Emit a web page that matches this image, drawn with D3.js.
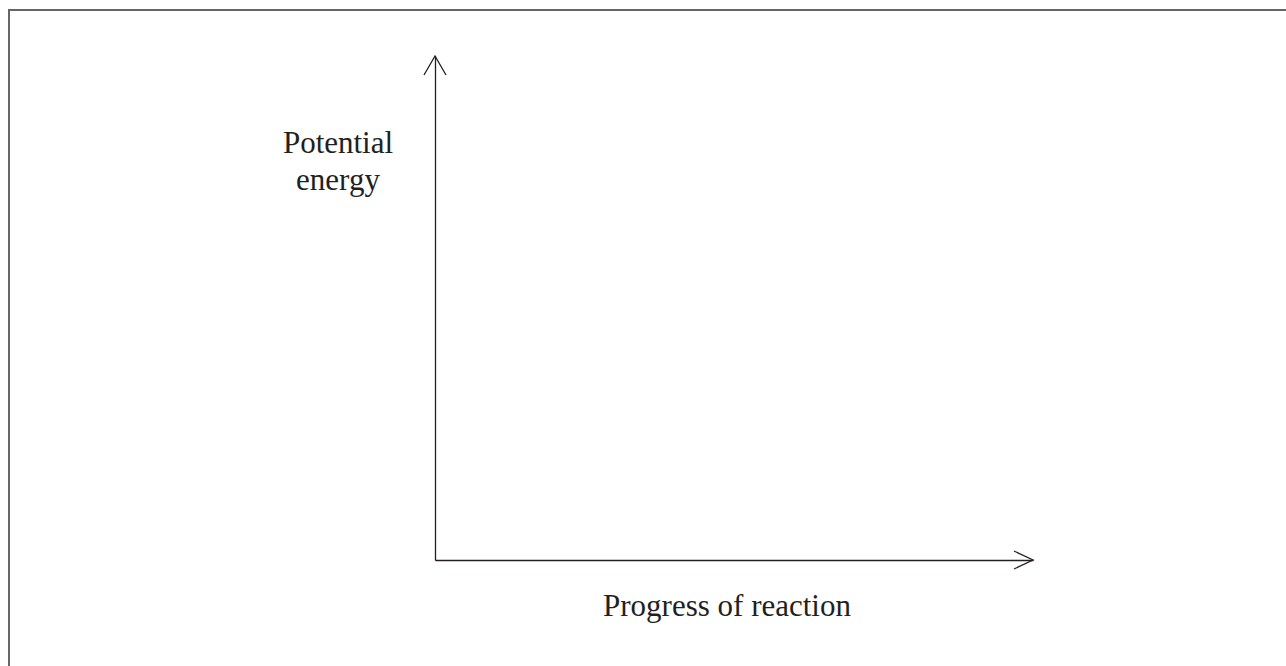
<!DOCTYPE html>
<html>
<head>
<meta charset="utf-8">
<script src="https://cdn.jsdelivr.net/npm/d3@7"></script>
<style>
  body { margin: 0; background: #fff; }
  svg { display: block; }
</style>
</head>
<body>
<svg id="chart" width="1286" height="666"></svg>
<script>
const width = 1286, height = 666

// axis extents (unitless, schematic diagram) and labels
const xDomain = [0, 1]
const yDomain = [0, 1]
const yLabelLines = ['Potential', 'energy']
const xLabel = 'Progress of reaction'

const x = d3.scaleLinear(xDomain, [435, 1033])
const y = d3.scaleLinear(yDomain, [560, 56])

const svg = d3.select('#chart')

// frame
svg.append('rect')
    .attr('x', 9)
    .attr('y', 10)
    .attr('width', width + 20)
    .attr('height', height + 20)
    .attr('fill', 'none')
    .attr('stroke', '#666')
    .attr('stroke-width', 2)

const ink = '#231f20'

const xAxis = d3.axisBottom(x).tickValues([]).tickSizeOuter(0)
const yAxis = d3.axisLeft(y).tickValues([]).tickSizeOuter(0)

svg.append('g')
    .attr('class', 'axis-x')
    .attr('transform', `translate(0, ${y(0)})`)
    .call(xAxis)
    .call(g => g.select('.domain').attr('stroke', ink).attr('stroke-width', 1.3))

svg.append('g')
    .attr('class', 'axis-y')
    .attr('transform', `translate(${x(0)}, 0)`)
    .call(yAxis)
    .call(g => g.select('.domain').attr('stroke', ink).attr('stroke-width', 1.3))

// open arrowheads
const len = 19, half = 9
svg.append('path')
    .attr('d', `M${x(1) - len},${y(0) - half}L${x(1)},${y(0)}L${x(1) - len},${y(0) + half}`)
    .attr('fill', 'none')
    .attr('stroke', ink)
    .attr('stroke-width', 1.3)

svg.append('path')
    .attr('d', `M${x(0) - 11},${y(1) + len}L${x(0)},${y(1)}L${x(0) + 11},${y(1) + len}`)
    .attr('fill', 'none')
    .attr('stroke', ink)
    .attr('stroke-width', 1.3)

// labels
svg.append('g')
    .selectAll('text')
    .data(yLabelLines)
    .join('text')
    .attr('x', 338)
    .attr('y', (d, i) => 153 + i * 37)
    .attr('text-anchor', 'middle')
    .attr('font-family', '"Liberation Serif", "Times New Roman", serif')
    .attr('font-size', '31px')
    .attr('fill', ink)
    .text(d => d)

svg.append('text')
    .text(xLabel)
    .attr('x', 727)
    .attr('y', 616)
    .attr('text-anchor', 'middle')
    .attr('font-family', '"Liberation Serif", "Times New Roman", serif')
    .attr('font-size', '31px')
    .attr('fill', ink)
</script>
</body>
</html>
